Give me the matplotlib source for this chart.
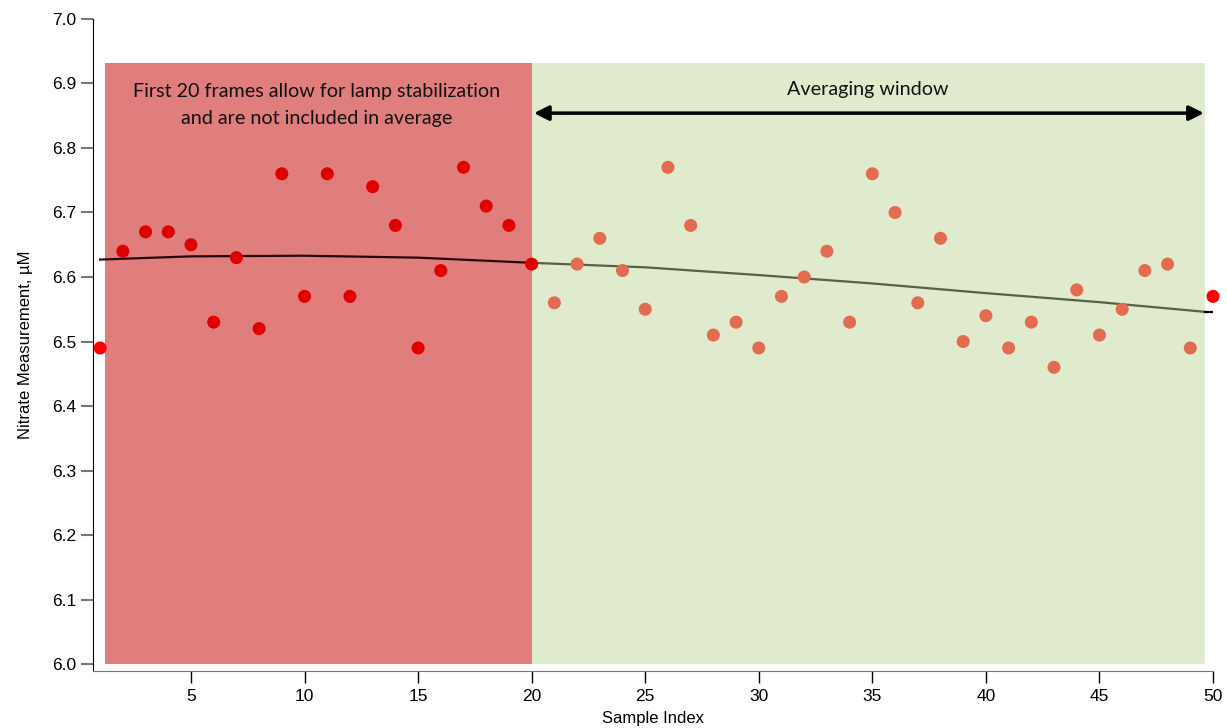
import matplotlib.pyplot as plt
from matplotlib.patches import Rectangle

# sample index and nitrate values
sample_index = list(range(1, 51))
nitrate = [6.49, 6.64, 6.67, 6.67, 6.65, 6.53, 6.63, 6.52, 6.76, 6.57,
           6.76, 6.57, 6.74, 6.68, 6.49, 6.61, 6.77, 6.71, 6.68, 6.62,
           6.56, 6.62, 6.66, 6.61, 6.55, 6.77, 6.68, 6.51, 6.53, 6.49,
           6.57, 6.60, 6.64, 6.53, 6.76, 6.70, 6.56, 6.66, 6.50, 6.54,
           6.49, 6.53, 6.46, 6.58, 6.51, 6.55, 6.61, 6.62, 6.49, 6.57]

# smoothed trend line
trend_x_stab = [1, 5, 10, 15, 20]
trend_y_stab = [6.627, 6.632, 6.633, 6.630, 6.622]
trend_x_avg = [20, 25, 30, 35, 40, 45, 49.65]
trend_y_avg = [6.622, 6.615, 6.603, 6.590, 6.575, 6.561, 6.546]
trend_x_end = [49.65, 50]
trend_y_end = [6.546, 6.546]

yticks = [6.0, 6.1, 6.2, 6.3, 6.4, 6.5, 6.6, 6.7, 6.8, 6.9, 7.0]
xticks = [5, 10, 15, 20, 25, 30, 35, 40, 45, 50]

plt.rcParams['font.family'] = ['Liberation Sans', 'DejaVu Sans']

fig = plt.figure(figsize=(12.27, 7.28), dpi=100)
ax = fig.add_axes([0.0755, 0.078, 0.9131, 0.896])
ax.set_xlim(0.67, 50)
ax.set_ylim(5.989, 7.0)

# shaded regions
ax.add_patch(Rectangle((1.21, 6.0), 20 - 1.21, 0.931, facecolor='#e07d7d',
                       edgecolor='none', zorder=0))
ax.add_patch(Rectangle((20, 6.0), 49.65 - 20, 0.931, facecolor='#e0eacd',
                       edgecolor='none', zorder=0))

# points
stab_x = sample_index[1:20]
stab_y = nitrate[1:20]
avg_x = sample_index[20:49]
avg_y = nitrate[20:49]
ax.scatter(avg_x, avg_y, s=88, color='#e36b4f', edgecolors='none', zorder=3)
ax.scatter(stab_x, stab_y, s=88, color='#e00000', edgecolors='none', zorder=3)
ax.scatter([sample_index[0], sample_index[-1]], [nitrate[0], nitrate[-1]],
           s=88, color='#ff0000', edgecolors='none', zorder=3, clip_on=False)

ax.plot(trend_x_stab, trend_y_stab, color='#2a0808', lw=1.6, zorder=2)
ax.plot(trend_x_avg, trend_y_avg, color='#56604a', lw=1.6, zorder=2)
ax.plot(trend_x_end, trend_y_end, color='black', lw=1.6, zorder=2)

# annotations
ax.text(10.55, 6.867, "First 20 frames allow for lamp stabilization\nand are not included in average",
        ha='center', va='center', fontsize=14.2, family=['Lato', 'DejaVu Sans'],
        linespacing=1.7, color='#111111')
ax.text(34.8, 6.890, "Averaging window", ha='center', va='center', fontsize=14.2,
        family=['Lato', 'DejaVu Sans'], color='#111111')
ax.annotate('', xy=(20.1, 6.854), xytext=(49.6, 6.854),
            arrowprops=dict(arrowstyle='<|-|>', color='black', lw=2.5,
                            mutation_scale=22, shrinkA=0, shrinkB=0))

ax.spines['top'].set_visible(False)
ax.spines['right'].set_visible(False)
ax.spines['left'].set_color('black')
ax.spines['bottom'].set_color('#777777')

ax.set_yticks(yticks)
ax.set_yticklabels([f"{v:.1f}" for v in yticks])
ax.set_xticks(xticks)
ax.tick_params(axis='y', length=8.6, width=1.5, color='#777777', labelsize=12.5, pad=3)
ax.tick_params(axis='x', length=8.6, width=1, color='black', labelsize=12.5, pad=4)

ax.set_xlabel("Sample Index", fontsize=12, labelpad=5)
ax.set_ylabel("Nitrate Measurement, \u00b5M", fontsize=12, labelpad=14)

fig.savefig("out.png", dpi=100)
